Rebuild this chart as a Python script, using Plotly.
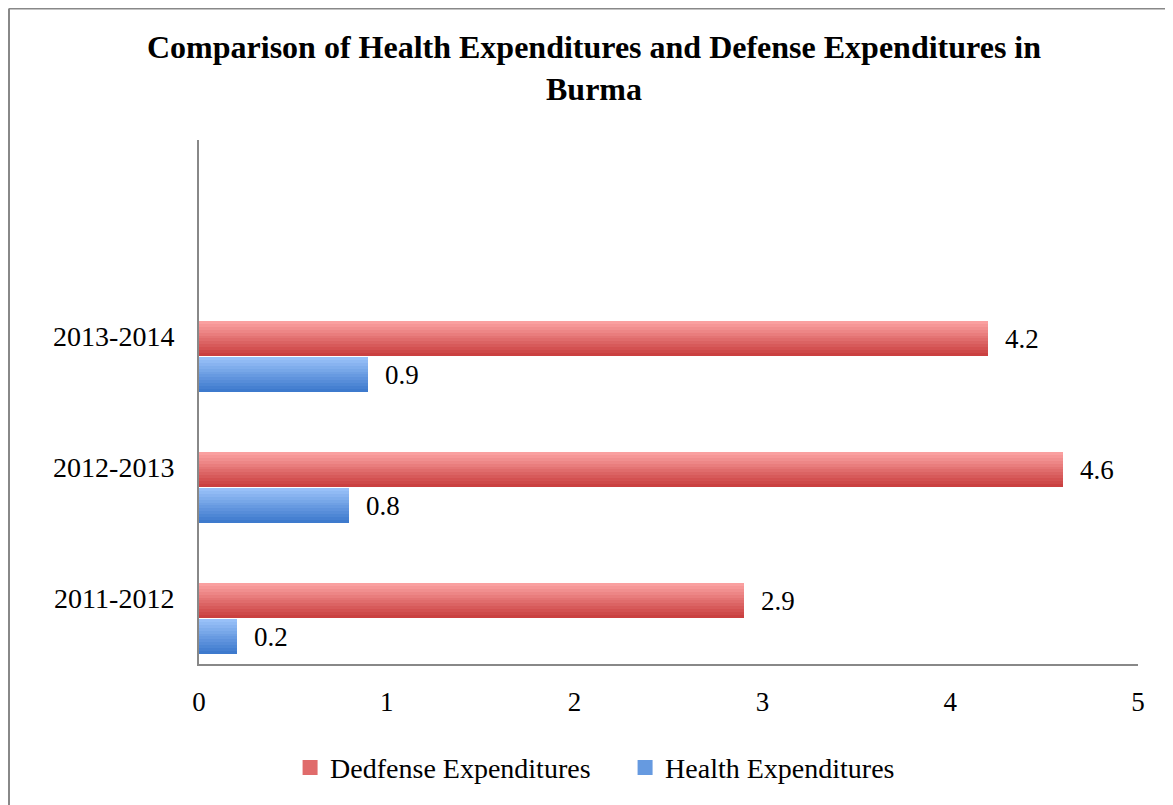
import plotly.graph_objects as go

# ---- data ----
periods = ["2011-2012", "2012-2013", "2013-2014"]
defense = [2.9, 4.6, 4.2]
health = [0.2, 0.8, 0.9]
x_ticks = [0, 1, 2, 3, 4, 5]
series_names = ["Dedfense Expenditures", "Health Expenditures"]

pos = list(range(len(periods)))

fig = go.Figure()
N = 12


def add_gradient_bar(values, name, offset, width, top, bottom):
    for k in range(N):
        t = k / (N - 1)
        col = tuple(round(top[i] + (bottom[i] - top[i]) * t) for i in range(3))
        fig.add_trace(go.Bar(
            y=pos, x=values, orientation="h",
            offset=offset + width - (k + 1) * width / N,
            width=width / N + 0.003,
            marker=dict(color="rgb(%d,%d,%d)" % col, line=dict(width=0)),
            name=name, showlegend=False, legendgroup=name,
            hoverinfo="skip",
        ))
    mid = tuple(round(top[i] + (bottom[i] - top[i]) * 0.55) for i in range(3))
    # legend entry (square swatch)
    fig.add_trace(go.Scatter(
        x=[None], y=[None], mode="markers", name=name, legendgroup=name,
        marker=dict(symbol="square", size=15, color="rgb(%d,%d,%d)" % mid),
        showlegend=True,
    ))


RED_OFF, RED_W = -0.15, 0.265
BLUE_OFF, BLUE_W = -0.425, 0.265

add_gradient_bar(defense, series_names[0], RED_OFF, RED_W, (250, 160, 160), (202, 64, 64))
add_gradient_bar(health, series_names[1], BLUE_OFF, BLUE_W, (152, 192, 248), (62, 122, 205))

font_serif = "Liberation Serif"
annotations = []
for vals, off, w in [(defense, RED_OFF, RED_W), (health, BLUE_OFF, BLUE_W)]:
    for p, v in zip(pos, vals):
        annotations.append(dict(
            x=v, y=p + off + w / 2, xref="x", yref="y",
            text=f"{v:.1f}", showarrow=False, xanchor="left", yanchor="middle",
            xshift=15, font=dict(family=font_serif, size=27, color="black"),
        ))

W, H = 1165, 797
L, T = 191, 132
PW, PH = 939, 526

fig.update_layout(
    width=W, height=H,
    margin=dict(l=L, r=W - L - PW, t=T, b=H - T - PH),
    paper_bgcolor="white", plot_bgcolor="white",
    barmode="overlay", bargap=0,
    title=dict(
        text="Comparison of Health Expenditures and Defense Expenditures in<br>Burma",
        x=586 / W, xref="container", xanchor="center",
        y=1 - 50 / H, yref="container", yanchor="top",
        font=dict(family=font_serif, size=32, color="black", weight="bold"),
    ),
    xaxis=dict(
        range=[0, 5], tickvals=x_ticks, ticktext=[str(t) for t in x_ticks],
        showgrid=False, zeroline=False, showline=True, linecolor="#888888", linewidth=2,
        ticks="", ticklabelstandoff=13,
        tickfont=dict(family=font_serif, size=27, color="black"),
    ),
    yaxis=dict(
        range=[-0.5, 3.5], tickvals=pos, ticktext=periods,
        showgrid=False, zeroline=False, showline=True, linecolor="#888888", linewidth=2,
        ticks="", ticklabelstandoff=17,
        tickfont=dict(family=font_serif, size=28, color="black"),
    ),
    legend=dict(
        orientation="h", x=0.097, xanchor="left", y=-0.198, yanchor="middle",
        font=dict(family=font_serif, size=28, color="black"),
        traceorder="normal", itemwidth=30, entrywidth=290,
    ),
    annotations=annotations,
    shapes=[
        dict(type="line", xref="paper", yref="paper",
             x0=(1 - L) / PW, x1=(1 - L) / PW, y0=(T + PH) / PH, y1=-(H - T - PH + 10) / PH,
             line=dict(color="#888888", width=2)),
        dict(type="line", xref="paper", yref="paper",
             x0=(1 - L) / PW, x1=(W + 10 - L) / PW, y0=(T + PH) / PH, y1=(T + PH) / PH,
             line=dict(color="#888888", width=2)),
    ],
    showlegend=True,
)

fig.write_html("out.html")
